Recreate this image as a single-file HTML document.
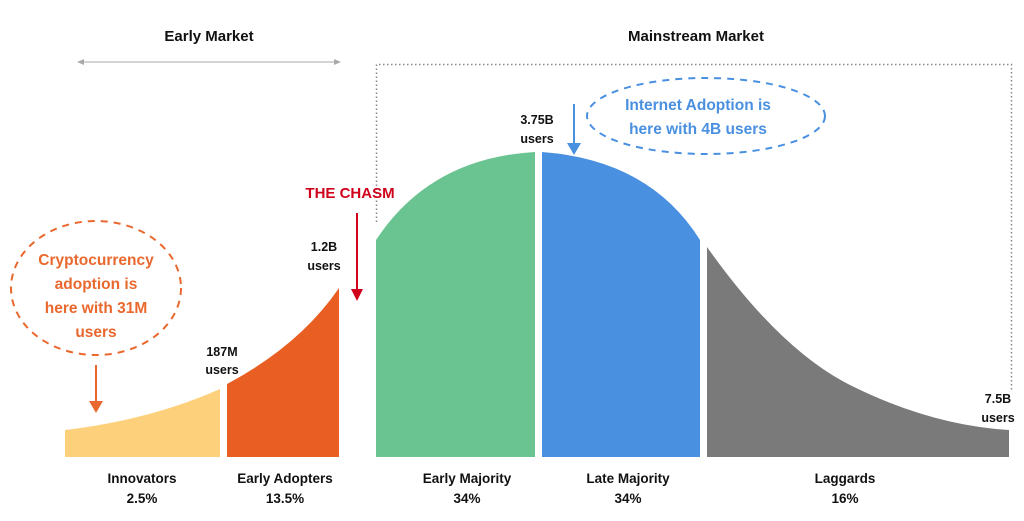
<!DOCTYPE html>
<html><head><meta charset="utf-8"><style>
html,body{margin:0;padding:0;background:#fff}
svg{display:block}
text{font-family:"Liberation Sans",sans-serif;font-weight:bold}
</style></head><body>
<svg width="1024" height="521" viewBox="0 0 1024 521">
<text x="209" y="41" font-size="15" text-anchor="middle" fill="#111">Early Market</text>
<text x="696" y="41" font-size="15" text-anchor="middle" fill="#111">Mainstream Market</text>
<line x1="82" y1="62" x2="336" y2="62" stroke="#bbb" stroke-width="1.2"/>
<polygon points="77,62 84,59 84,65" fill="#aaa"/>
<polygon points="341,62 334,59 334,65" fill="#aaa"/>
<path d="M376.5 222 V64.5 H1011.5 V392" fill="none" stroke="#888" stroke-width="1.5" stroke-dasharray="1.5,2.5"/>

<path d="M65 457 V430 Q150 420 220 389 V457 Z" fill="#fdd07c"/>
<path d="M227 457 V384 Q300 345 339 288 V457 Z" fill="#e95f23"/>
<path d="M376 457 V240 Q430 158 535 152 V457 Z" fill="#6ac491"/>
<path d="M542 457 V152 Q650 160 700 240 V457 Z" fill="#4a90e0"/>
<path d="M707 457 V247 Q780 350 850 385 Q930 425 1009 430 V457 Z" fill="#7a7a7a"/>

<g font-size="12.5" fill="#111" text-anchor="middle">
<text x="222" y="356">187M</text><text x="222" y="374">users</text>
<text x="324" y="251">1.2B</text><text x="324" y="270">users</text>
<text x="537" y="124">3.75B</text><text x="537" y="143">users</text>
<text x="998" y="403">7.5B</text><text x="998" y="422">users</text>
</g>

<text x="350" y="198" font-size="15" text-anchor="middle" fill="#d0021b" font-weight="normal">THE CHASM</text>
<line x1="357" y1="213" x2="357" y2="292" stroke="#d0021b" stroke-width="2"/>
<polygon points="351,289 363,289 357,301" fill="#d0021b"/>

<ellipse cx="96" cy="288" rx="85" ry="67" fill="none" stroke="#e9682e" stroke-width="2" stroke-dasharray="7,6"/>
<g font-size="15.5" fill="#e9682e" text-anchor="middle">
<text x="96" y="265">Cryptocurrency</text>
<text x="96" y="289">adoption is</text>
<text x="96" y="313">here with 31M</text>
<text x="96" y="337">users</text>
</g>
<line x1="96" y1="365" x2="96" y2="405" stroke="#e9682e" stroke-width="2"/>
<polygon points="89,401 103,401 96,413" fill="#e9682e"/>

<ellipse cx="706" cy="116" rx="119" ry="38" fill="none" stroke="#4a90e0" stroke-width="2" stroke-dasharray="7,6"/>
<g font-size="15.5" fill="#4a90e0" text-anchor="middle">
<text x="698" y="110">Internet Adoption is</text>
<text x="698" y="134">here with 4B users</text>
</g>
<line x1="574" y1="104" x2="574" y2="146" stroke="#4a90e0" stroke-width="2"/>
<polygon points="567,143 581,143 574,155" fill="#4a90e0"/>

<g font-size="13.5" fill="#111" text-anchor="middle">
<text x="142" y="483">Innovators</text><text x="142" y="503">2.5%</text>
<text x="285" y="483">Early Adopters</text><text x="285" y="503">13.5%</text>
<text x="467" y="483">Early Majority</text><text x="467" y="503">34%</text>
<text x="628" y="483">Late Majority</text><text x="628" y="503">34%</text>
<text x="845" y="483">Laggards</text><text x="845" y="503">16%</text>
</g>
</svg>
</body></html>
